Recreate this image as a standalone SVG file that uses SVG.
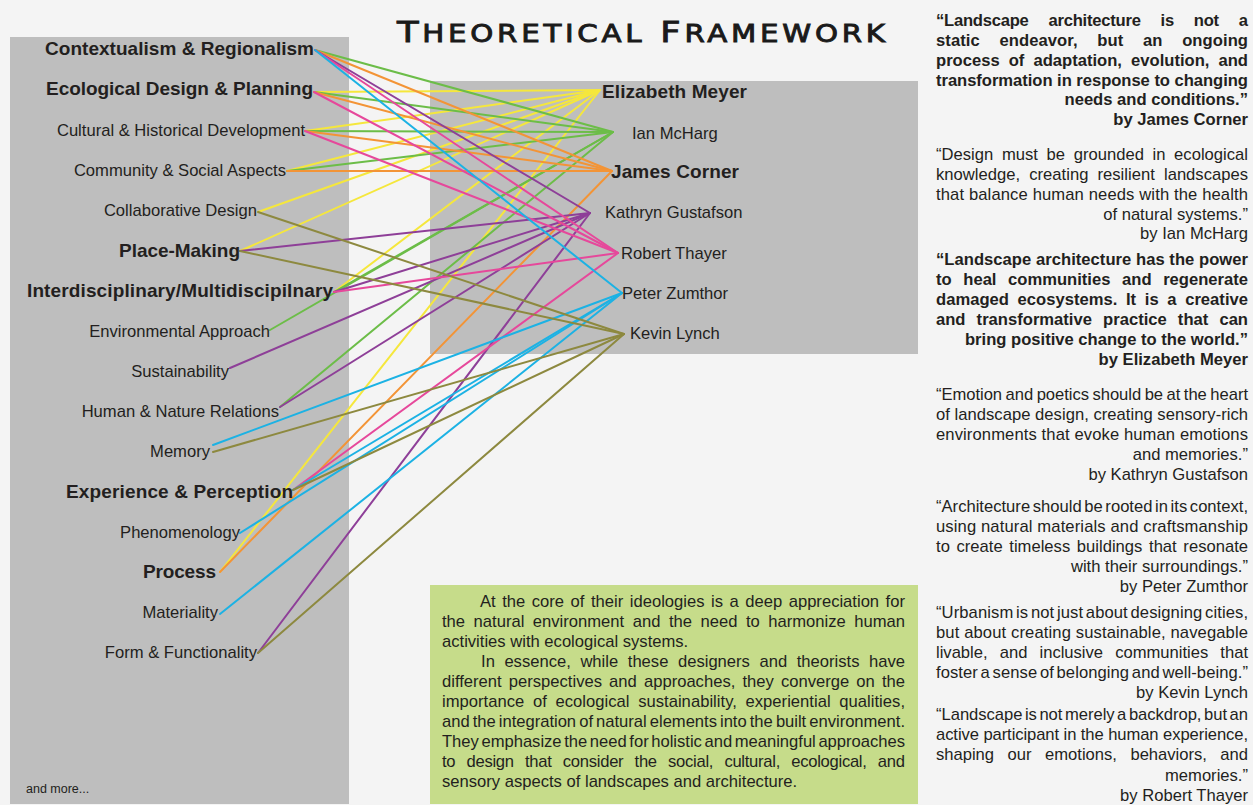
<svg xmlns="http://www.w3.org/2000/svg" width="1253" height="805" viewBox="0 0 1253 805">
<style>
.t{font-family:"Liberation Sans",Arial,sans-serif;fill:#231f20}
.r{font-size:16.6px}
.b{font-size:16.6px;font-weight:700}
.lb{font-size:19px;font-weight:700}
.e{text-anchor:end}
#connectors line{stroke-width:2;fill:none;stroke-linecap:round}
.y{stroke:#f5e73c}.g{stroke:#6cbd48}.o{stroke:#f39436}.p{stroke:#8e3f98}.k{stroke:#e6489b}.c{stroke:#1cb2e4}.v{stroke:#8d893f}
</style>
<rect width="1253" height="805" fill="#f4f4f4"/>
<rect x="10" y="37" width="339" height="767" fill="#bebebe"/>
<rect x="430" y="81" width="488" height="273" fill="#bebebe"/>
<rect x="430" y="585" width="488" height="219" fill="#c6dc8a"/>

<g id="title" transform="scale(1.22,1)">
<text x="325.4" y="42" textLength="400" lengthAdjust="spacing" font-family="DejaVu Sans,sans-serif" fill="#1a1a1a" stroke="#1a1a1a" stroke-width="0.9" font-size="29">T<tspan font-size="24">HEORETICAL</tspan> F<tspan font-size="24">RAMEWORK</tspan></text>
</g>

<g id="connectors">
<line class="y" x1="314" y1="92" x2="600" y2="90"/>
<line class="y" x1="305" y1="131" x2="600" y2="90"/>
<line class="y" x1="287" y1="171" x2="600" y2="90"/>
<line class="y" x1="258" y1="212" x2="600" y2="90"/>
<line class="y" x1="240" y1="251" x2="600" y2="90"/>
<line class="y" x1="334" y1="292" x2="600" y2="90"/>
<line class="y" x1="220" y1="572" x2="600" y2="90"/>
<line class="g" x1="315" y1="50" x2="613" y2="132"/>
<line class="g" x1="314" y1="92" x2="613" y2="132"/>
<line class="g" x1="305" y1="131" x2="613" y2="132"/>
<line class="g" x1="287" y1="171" x2="613" y2="132"/>
<line class="g" x1="334" y1="292" x2="613" y2="132"/>
<line class="g" x1="270" y1="330" x2="613" y2="132"/>
<line class="g" x1="280" y1="407" x2="613" y2="132"/>
<line class="o" x1="315" y1="50" x2="612" y2="171"/>
<line class="o" x1="314" y1="92" x2="612" y2="171"/>
<line class="o" x1="305" y1="131" x2="612" y2="171"/>
<line class="o" x1="287" y1="171" x2="612" y2="171"/>
<line class="o" x1="220" y1="572" x2="612" y2="171"/>
<line class="p" x1="315" y1="50" x2="590" y2="213"/>
<line class="p" x1="240" y1="251" x2="590" y2="213"/>
<line class="p" x1="334" y1="292" x2="590" y2="213"/>
<line class="p" x1="230" y1="368" x2="590" y2="213"/>
<line class="p" x1="280" y1="407" x2="590" y2="213"/>
<line class="p" x1="258" y1="653" x2="590" y2="213"/>
<line class="k" x1="315" y1="50" x2="618" y2="253"/>
<line class="k" x1="314" y1="92" x2="618" y2="253"/>
<line class="k" x1="305" y1="131" x2="618" y2="253"/>
<line class="k" x1="334" y1="292" x2="618" y2="253"/>
<line class="k" x1="293" y1="490" x2="618" y2="253"/>
<line class="c" x1="315" y1="50" x2="622" y2="293"/>
<line class="c" x1="213" y1="445" x2="622" y2="293"/>
<line class="c" x1="293" y1="490" x2="622" y2="293"/>
<line class="c" x1="240" y1="533" x2="622" y2="293"/>
<line class="c" x1="220" y1="614" x2="622" y2="293"/>
<line class="v" x1="258" y1="212" x2="624" y2="334"/>
<line class="v" x1="240" y1="251" x2="624" y2="334"/>
<line class="v" x1="213" y1="452" x2="624" y2="334"/>
<line class="v" x1="293" y1="490" x2="624" y2="334"/>
<line class="v" x1="258" y1="653" x2="624" y2="334"/>
</g>

<g id="concepts">
<g id="n-contextualism"><text class="t lb" x="45" y="55" textLength="269" lengthAdjust="spacing">Contextualism &amp; Regionalism</text></g>
<g id="n-ecological"><text class="t lb" x="46" y="95" textLength="267" lengthAdjust="spacing">Ecological Design &amp; Planning</text></g>
<g id="n-cultural"><text class="t r e" x="305" y="136">Cultural &amp; Historical Development</text></g>
<g id="n-community"><text class="t r e" x="286" y="176">Community &amp; Social Aspects</text></g>
<g id="n-collaborative"><text class="t r e" x="257" y="216">Collaborative Design</text></g>
<g id="n-placemaking"><text class="t lb" x="119" y="257" textLength="121" lengthAdjust="spacing">Place-Making</text></g>
<g id="n-interdisciplinary"><text class="t lb" x="27" y="297" textLength="306" lengthAdjust="spacing">Interdisciplinary/Multidiscipilnary</text></g>
<g id="n-environmental"><text class="t r e" x="270" y="337">Environmental Approach</text></g>
<g id="n-sustainability"><text class="t r e" x="229" y="377">Sustainability</text></g>
<g id="n-humannature"><text class="t r e" x="279" y="417">Human &amp; Nature Relations</text></g>
<g id="n-memory"><text class="t r e" x="210" y="457">Memory</text></g>
<g id="n-experience"><text class="t lb" x="66" y="498" textLength="227" lengthAdjust="spacing">Experience &amp; Perception</text></g>
<g id="n-phenomenology"><text class="t r e" x="240" y="538">Phenomenology</text></g>
<g id="n-process"><text class="t lb" x="143" y="578" textLength="73" lengthAdjust="spacing">Process</text></g>
<g id="n-materiality"><text class="t r e" x="218" y="618">Materiality</text></g>
<g id="n-form"><text class="t r e" x="257" y="658">Form &amp; Functionality</text></g>
<g id="n-more"><text class="t" x="26" y="793" font-size="12.5">and more...</text></g>
</g>

<g id="people">
<g id="n-meyer"><text class="t lb" x="602" y="98" textLength="145" lengthAdjust="spacing">Elizabeth Meyer</text></g>
<g id="n-mcharg"><text class="t r" x="632" y="139">Ian McHarg</text></g>
<g id="n-corner"><text class="t lb" x="611" y="178" textLength="128" lengthAdjust="spacing">James Corner</text></g>
<g id="n-gustafson"><text class="t r" x="605" y="218">Kathryn Gustafson</text></g>
<g id="n-thayer"><text class="t r" x="621" y="259">Robert Thayer</text></g>
<g id="n-zumthor"><text class="t r" x="622" y="299">Peter Zumthor</text></g>
<g id="n-lynch"><text class="t r" x="630" y="339">Kevin Lynch</text></g>
</g>

<g id="quotes">
<text class="t b" x="936" y="26" textLength="312" lengthAdjust="spacing" word-spacing="15.5">“Landscape architecture is not a</text>
<text class="t b" x="936" y="46" textLength="312" lengthAdjust="spacing" word-spacing="15">static endeavor, but an ongoing</text>
<text class="t b" x="936" y="66" textLength="312" lengthAdjust="spacing" word-spacing="4.5">process of adaptation, evolution, and</text>
<text class="t b" x="936" y="86" textLength="312" lengthAdjust="spacing">transformation in response to changing</text>
<text class="t b e" x="1248" y="105">needs and conditions.”</text>
<text class="t b e" x="1248" y="125">by James Corner</text>

<text class="t r" x="936" y="160" textLength="312" lengthAdjust="spacing" word-spacing="4">“Design must be grounded in ecological</text>
<text class="t r" x="936" y="180" textLength="312" lengthAdjust="spacing" word-spacing="4.5">knowledge, creating resilient landscapes</text>
<text class="t r" x="936" y="200" textLength="312" lengthAdjust="spacing">that balance human needs with the health</text>
<text class="t r e" x="1248" y="220">of natural systems.”</text>
<text class="t r e" x="1248" y="239">by Ian McHarg</text>

<text class="t b" x="936" y="265" textLength="312" lengthAdjust="spacing">“Landscape architecture has the power</text>
<text class="t b" x="936" y="285" textLength="312" lengthAdjust="spacing" word-spacing="7">to heal communities and regenerate</text>
<text class="t b" x="936" y="305" textLength="312" lengthAdjust="spacing" word-spacing="4">damaged ecosystems. It is a creative</text>
<text class="t b" x="936" y="325" textLength="312" lengthAdjust="spacing" word-spacing="6.5">and transformative practice that can</text>
<text class="t b e" x="1248" y="345">bring positive change to the world.”</text>
<text class="t b e" x="1248" y="365">by Elizabeth Meyer</text>

<text class="t r" x="936" y="400" textLength="312" lengthAdjust="spacing" word-spacing="-1">“Emotion and poetics should be at the heart</text>
<text class="t r" x="936" y="420" textLength="312" lengthAdjust="spacing">of landscape design, creating sensory-rich</text>
<text class="t r" x="936" y="440" textLength="312" lengthAdjust="spacing">environments that evoke human emotions</text>
<text class="t r e" x="1248" y="460">and memories.”</text>
<text class="t r e" x="1248" y="480">by Kathryn Gustafson</text>

<text class="t r" x="936" y="512" textLength="312" lengthAdjust="spacing" word-spacing="-2">“Architecture should be rooted in its context,</text>
<text class="t r" x="936" y="532" textLength="312" lengthAdjust="spacing">using natural materials and craftsmanship</text>
<text class="t r" x="936" y="552" textLength="312" lengthAdjust="spacing" word-spacing="2">to create timeless buildings that resonate</text>
<text class="t r e" x="1248" y="572">with their surroundings.”</text>
<text class="t r e" x="1248" y="592">by Peter Zumthor</text>

<text class="t r" x="936" y="618" textLength="312" lengthAdjust="spacing" word-spacing="-2">“Urbanism is not just about designing cities,</text>
<text class="t r" x="936" y="638" textLength="312" lengthAdjust="spacing">but about creating sustainable, navegable</text>
<text class="t r" x="936" y="658" textLength="312" lengthAdjust="spacing" word-spacing="7.5">livable, and inclusive communities that</text>
<text class="t r" x="936" y="678" textLength="312" lengthAdjust="spacing" word-spacing="-2">foster a sense of belonging and well-being.”</text>
<text class="t r e" x="1248" y="698">by Kevin Lynch</text>

<text class="t r" x="936" y="720" textLength="312" lengthAdjust="spacing" word-spacing="-2">“Landscape is not merely a backdrop, but an</text>
<text class="t r" x="936" y="740" textLength="312" lengthAdjust="spacing">active participant in the human experience,</text>
<text class="t r" x="936" y="760" textLength="312" lengthAdjust="spacing" word-spacing="9">shaping our emotions, behaviors, and</text>
<text class="t r e" x="1248" y="781">memories.”</text>
<text class="t r e" x="1248" y="801">by Robert Thayer</text>
</g>

<g id="summary">
<text class="t r" x="480" y="607" textLength="425" lengthAdjust="spacing" word-spacing="1.9">At the core of their ideologies is a deep appreciation for</text>
<text class="t r" x="442" y="627" textLength="463" lengthAdjust="spacing" word-spacing="3.9">the natural environment and the need to harmonize human</text>
<text class="t r" x="442" y="647">activities with ecological systems.</text>
<text class="t r" x="481" y="667" textLength="424" lengthAdjust="spacing" word-spacing="4.9">In essence, while these designers and theorists have</text>
<text class="t r" x="442" y="687" textLength="463" lengthAdjust="spacing" word-spacing="2.5">different perspectives and approaches, they converge on the</text>
<text class="t r" x="442" y="707" textLength="463" lengthAdjust="spacing" word-spacing="4">importance of ecological sustainability, experiential qualities,</text>
<text class="t r" x="442" y="727" textLength="463" lengthAdjust="spacing" word-spacing="-1.5">and the integration of natural elements into the built environment.</text>
<text class="t r" x="442" y="747" textLength="463" lengthAdjust="spacing" word-spacing="-2">They emphasize the need for holistic and meaningful approaches</text>
<text class="t r" x="442" y="767" textLength="463" lengthAdjust="spacing" word-spacing="6.9">to design that consider the social, cultural, ecological, and</text>
<text class="t r" x="442" y="787">sensory aspects of landscapes and architecture.</text>
</g>
</svg>
